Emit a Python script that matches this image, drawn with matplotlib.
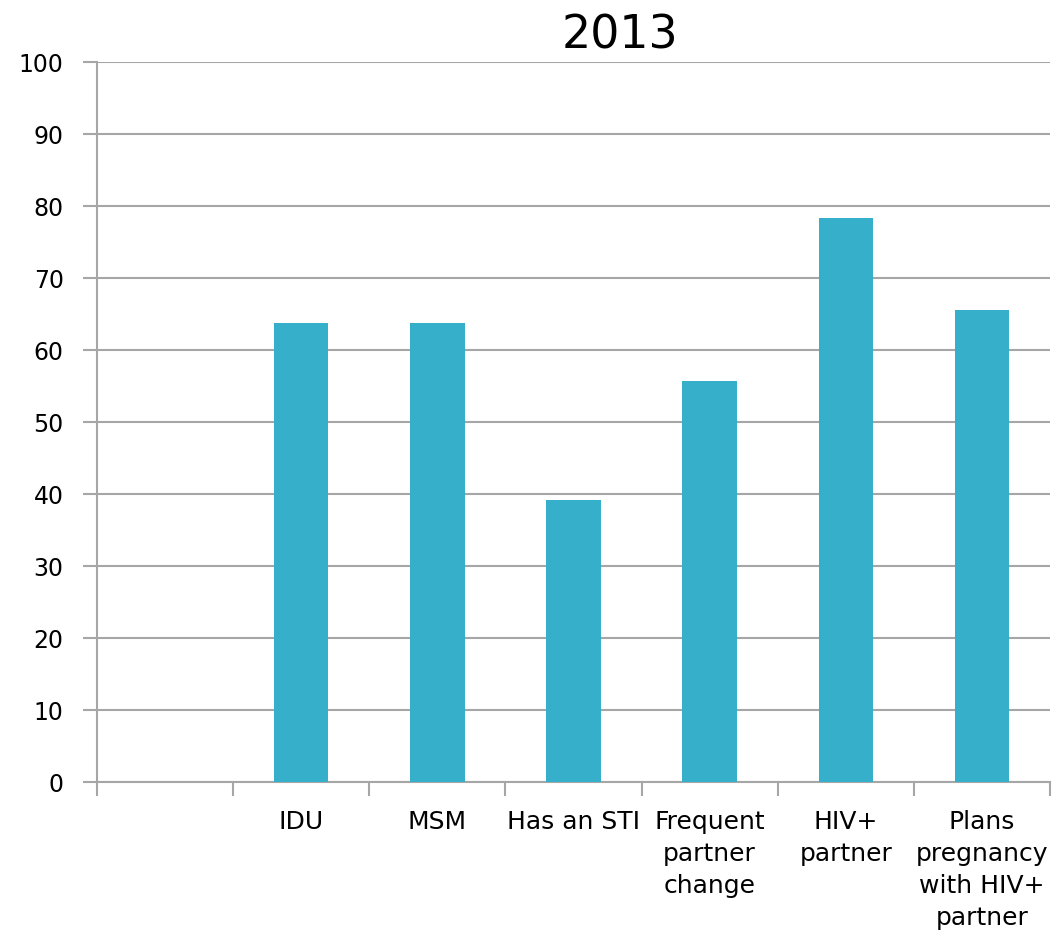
import numpy as np
import matplotlib.pyplot as plt

# Survey results for 2013 (first slot is left empty on purpose)
categories = ["", "IDU", "MSM", "Has an STI", "Frequent\npartner\nchange",
              "HIV+\npartner", "Plans\npregnancy\nwith HIV+\npartner"]
values = [0, 63.7, 63.8, 39.1, 55.7, 78.3, 65.5]

bar_color = "#35AFCA"
grid_color = "#A6A6A6"

plt.rcParams['font.family'] = ['DejaVu Sans']

fig = plt.figure(figsize=(10.61, 9.31), dpi=100)
ax = fig.add_axes([97 / 1061, 1 - 782 / 931, 953 / 1061, 720 / 931])

x = np.arange(len(categories))
ax.bar(x[1:], values[1:], width=0.4, color=bar_color, zorder=3)

ax.set_xlim(-0.5, len(categories) - 0.5)
ax.set_ylim(0, 100)
ax.set_yticks(np.arange(0, 101, 10))
ax.yaxis.grid(True, color=grid_color, linewidth=1.5, zorder=0)

# category labels centred under bars, ticks on category boundaries
ax.set_xticks(x)
ax.set_xticklabels(categories, fontsize=18, linespacing=1.42, va="top")
ax.set_xticks(np.arange(-0.5, len(categories)), minor=True)
ax.tick_params(axis="x", which="major", length=0, pad=20)
ax.tick_params(axis="x", which="minor", length=10, width=1.5, color=grid_color, direction="out")
ax.tick_params(axis="y", length=10, width=1.5, color=grid_color, labelsize=17, pad=14)

for side in ["top", "right"]:
    ax.spines[side].set_visible(False)
for side in ["left", "bottom"]:
    ax.spines[side].set_color(grid_color)
    ax.spines[side].set_linewidth(1.5)

fig.text(620 / 1061, 1 - 36 / 931, "2013", fontsize=33, ha="center", va="center")

fig.savefig("out.png", dpi=100, facecolor="white")
